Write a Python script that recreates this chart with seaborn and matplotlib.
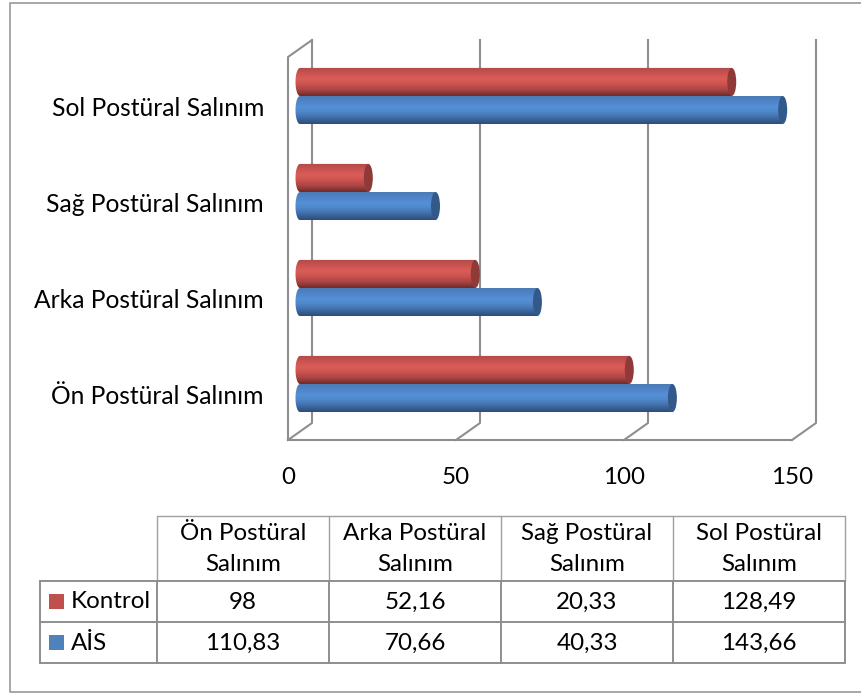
import numpy as np
import pandas as pd
import matplotlib
matplotlib.use("Agg")
import matplotlib.pyplot as plt
from matplotlib.patches import Ellipse, Rectangle, Polygon
from matplotlib.colors import LinearSegmentedColormap
import seaborn as sns

# Measurements per posture direction
categories = ["Ön Postüral Salınım", "Arka Postüral Salınım", "Sağ Postüral Salınım", "Sol Postüral Salınım"]
header_lines = [["Ön Postüral", "Salınım"], ["Arka Postüral", "Salınım"], ["Sağ Postüral", "Salınım"], ["Sol Postüral", "Salınım"]]
kontrol = [98, 52.16, 20.33, 128.49]
ais = [110.83, 70.66, 40.33, 143.66]
ticks = [0, 50, 100, 150]

FONT = "Lato"
GRAY = "#8e8e8e"
W, H = 862, 693

sns.set_theme(style="white")
plt.rcParams["font.family"] = [FONT, "DejaVu Sans"]

fig = plt.figure(figsize=(W / 100, H / 100), dpi=100, facecolor="white")

# Full-figure layer in pixel units for the frame and the data table
page = fig.add_axes([0, 0, 1, 1], zorder=0)
page.set_xlim(0, W)
page.set_ylim(H, 0)
page.axis("off")

page.plot([862, 10.5, 10.5, 862], [3, 3, 692, 692], color="#a0a0a0", lw=1.3, clip_on=False)

col_x = [157, 329, 501, 673, 845]
row_y = [516, 581, 622, 663]
LEFT = 40
for x in col_x:
    page.plot([x, x], [row_y[0], row_y[1]], color="#a0a0a0", lw=1.0)
    page.plot([x, x], [row_y[1], row_y[3]], color=GRAY, lw=1.4)
page.plot([col_x[0], col_x[-1]], [row_y[0], row_y[0]], color="#a0a0a0", lw=1.0)
for y in row_y[1:]:
    page.plot([LEFT, col_x[-1]], [y, y], color=GRAY, lw=1.4)
page.plot([LEFT, LEFT], [row_y[1], row_y[3]], color=GRAY, lw=1.4)

TABLE_SIZE = 17.4
for i, lines in enumerate(header_lines):
    cx = (col_x[i] + col_x[i + 1]) / 2
    page.text(cx, 533.5, lines[0], ha="center", va="center", fontsize=TABLE_SIZE, color="black")
    page.text(cx, 564.5, lines[1], ha="center", va="center", fontsize=TABLE_SIZE, color="black")


def comma(v):
    return f"{v:g}".replace(".", ",")


series_rows = [("Kontrol", kontrol, "#c0504d"), ("AİS", ais, "#4f81bd")]
for r, (name, values, colour) in enumerate(series_rows):
    cy = (row_y[r + 1] + row_y[r + 2]) / 2
    page.add_patch(Rectangle((49, cy - 7.5), 15, 15, color=colour, lw=0))
    page.text(70.5, cy + 0.5, name, ha="left", va="center", fontsize=TABLE_SIZE, color="black")
    for i, v in enumerate(values):
        cx = (col_x[i] + col_x[i + 1]) / 2
        page.text(cx, cy + 1, comma(v), ha="center", va="center", fontsize=TABLE_SIZE, color="black")

# Plot area: value 0 sits midway between the front and back walls
PX_PER_UNIT = 3.36
PX_PER_CAT = 96.0
x0_px, y0_px = 300.0, 384.0
left_px, right_px, top_px, bottom_px = 288, 816, 40, 440
ax = fig.add_axes([left_px / W, 1 - bottom_px / H, (right_px - left_px) / W, (bottom_px - top_px) / H], zorder=1)
ax.patch.set_alpha(0)

df = pd.DataFrame({
    "kategori": categories * 2,
    "deger": ais + kontrol,
    "grup": ["AİS"] * 4 + ["Kontrol"] * 4,
})
sns.barplot(data=df, x="deger", y="kategori", hue="grup", order=categories, hue_order=["AİS", "Kontrol"],
            palette={"AİS": "#4f81bd", "Kontrol": "#c0504d"}, width=0.585, dodge=True, legend=False, ax=ax,
            saturation=1, orient="h")

xlim = ((left_px - x0_px) / PX_PER_UNIT, (right_px - x0_px) / PX_PER_UNIT)
ylim = ((y0_px - bottom_px) / PX_PER_CAT, (y0_px - top_px) / PX_PER_CAT)
ax.set_xlim(*xlim)
ax.set_ylim(*ylim)
ax.axis("off")

depth = 12 / PX_PER_UNIT
floor_rise = 17 / PX_PER_CAT
front_y = ylim[0]
back_floor = front_y + floor_rise
wall_top = ylim[1]

# Back-wall gridlines with their slanted floor segments
line_kw = dict(color=GRAY, lw=1.5, clip_on=False, zorder=1, solid_capstyle="projecting")
for t in ticks:
    ax.plot([t + depth, t + depth, t - depth], [wall_top, back_floor, front_y], **line_kw)
    ax.text(t - depth, front_y - 37.5 / PX_PER_CAT, str(t), ha="center", va="center", fontsize=17.4, color="black")

ax.plot([ticks[0] - depth] * 2 + [ticks[0] + depth], [front_y, wall_top - floor_rise, wall_top], **line_kw)
ax.plot([ticks[0] - depth, ticks[-1] - depth], [front_y, front_y], **line_kw)

# Category names sit a little below the middle of their bar pair
for i, name in enumerate(categories):
    ax.text((264 - x0_px) / PX_PER_UNIT, i - 13 / PX_PER_CAT, name, ha="right", va="center", fontsize=17.7, color="black")

# Cylinder shading replaces the flat bars
shades = {
    "#4f81bd": LinearSegmentedColormap.from_list("b", ["#4a7ab3", "#4f83c6", "#5590d6", "#4f86c8", "#3f6ba3", "#2b4d7c"]),
    "#c0504d": LinearSegmentedColormap.from_list("r", ["#ad4a48", "#c9524f", "#dc5d5a", "#cb5350", "#a84441", "#6e2b2a"]),
}
caps = {"#4f81bd": "#33598b", "#c0504d": "#8f3a38"}
ramp = np.linspace(0, 1, 64).reshape(-1, 1)
cap_w = 9 / PX_PER_UNIT
for bar in list(ax.patches):
    x, y, w, h = bar.get_x(), bar.get_y(), bar.get_width(), bar.get_height()
    if h == 0 or w == 0:
        continue
    key = matplotlib.colors.to_hex(bar.get_facecolor())
    bar.set_visible(False)
    # the gradient runs over a body with a rounded start and a flat end under the cap
    ts = np.linspace(-np.pi / 2, np.pi / 2, 30)
    xs = np.r_[w, w, -cap_w / 2 * np.cos(ts)]
    ys = np.r_[y + h, y, y + h / 2 + h / 2 * np.sin(ts)]
    clip = Polygon(np.c_[xs, ys], closed=True, transform=ax.transData, fc="none", ec="none")
    ax.add_patch(clip)
    im = ax.imshow(ramp, cmap=shades[key], extent=[-cap_w, w + cap_w, y, y + h], origin="upper", aspect="auto", zorder=3)
    im.set_clip_path(clip)
    # the end cap faces the viewer and bulges past the bar length
    ax.add_patch(Ellipse((w, y + h / 2), cap_w, h, fc=caps[key], ec="none", zorder=4))

ax.set_xlim(*xlim)
ax.set_ylim(*ylim)

fig.savefig("out.png", dpi=100, facecolor="white")
